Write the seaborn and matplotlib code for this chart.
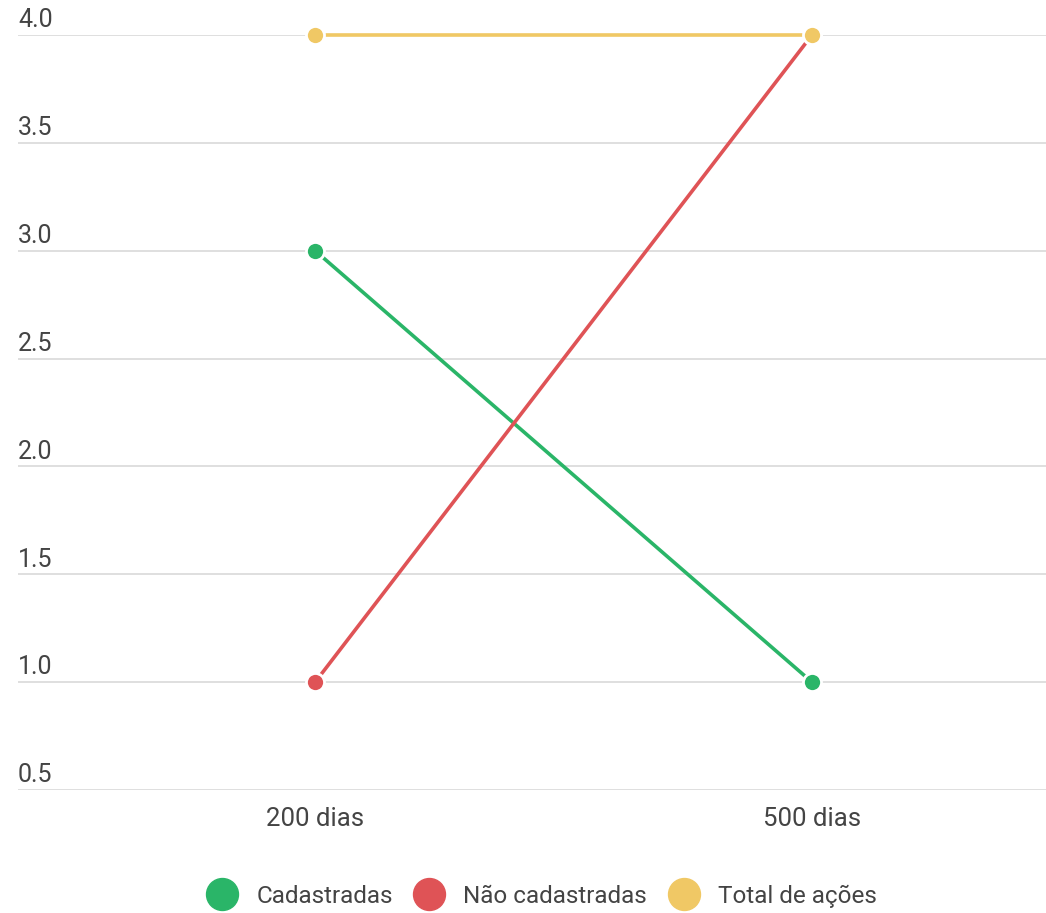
import seaborn as sns
import matplotlib.pyplot as plt
import matplotlib.transforms as mtransforms
from matplotlib.lines import Line2D
import pandas as pd

categorias = ['200 dias', '500 dias']
cadastradas = [3, 1]
nao_cadastradas = [1, 4]
total_acoes = [4, 4]
series = ['Cadastradas', 'Não cadastradas', 'Total de ações']
cores = ['#2ab568', '#df5356', '#f0c865']
yticks = [0.5, 1.0, 1.5, 2.0, 2.5, 3.0, 3.5, 4.0]

df = pd.DataFrame({
    'periodo': categorias * 3,
    'valor': cadastradas + nao_cadastradas + total_acoes,
    'serie': [s for s in series for _ in categorias],
})

sns.set_style('white')
plt.rcParams['font.family'] = ['Roboto', 'DejaVu Sans']

fig = plt.figure(figsize=(10.46, 9.13), dpi=100)
ax = fig.add_axes([18 / 1046, 123 / 913, 1028 / 1046, 755 / 913])

sns.lineplot(data=df, x='periodo', y='valor', hue='serie', palette=cores,
             marker='o', markersize=13, markeredgecolor='white', markeredgewidth=2,
             linewidth=2.6, ax=ax, legend=False, clip_on=False, zorder=3)

ax.set_xlim(-0.598, 1.471)
ax.set_ylim(0.5, 4.0)
ax.set_yticks(yticks)
ax.yaxis.grid(True, color='#dcdcdc', linewidth=1.3, zorder=0)
ax.set_yticklabels([])
ax.tick_params(axis='y', length=0)
ax.tick_params(axis='x', length=0, labelsize=18.5, labelcolor='#444444', pad=12)
ax.set_xlabel('')
ax.set_ylabel('')
for s in ax.spines.values():
    s.set_visible(False)

trans = mtransforms.blended_transform_factory(ax.transAxes, ax.transData)
off = mtransforms.offset_copy(trans, fig=fig, x=0, y=2, units='points')
for v in yticks:
    ax.text(0, v, f'{v:.1f}', transform=off, ha='left', va='bottom',
            fontsize=18, color='#444444')

handles = [Line2D([], [], linestyle='none', marker='o', markersize=23,
                  markerfacecolor=c, markeredgecolor=c) for c in cores]
fig.legend(handles, series, loc='center', bbox_to_anchor=(541 / 1046, 1 - 896 / 913),
           ncol=3, frameon=False, fontsize=17.5, labelcolor='#444444',
           handletextpad=0.7, columnspacing=0.8, handlelength=1.4)

fig.savefig('out.png', dpi=100)
